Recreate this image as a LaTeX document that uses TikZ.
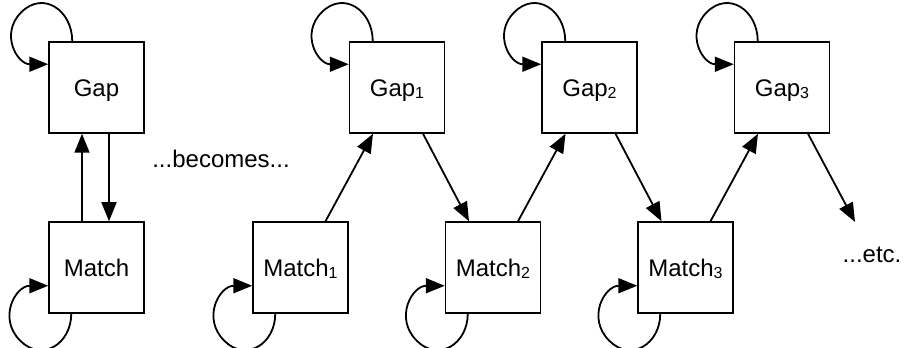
\documentclass[tikz,border=0pt]{standalone}
\usepackage{fontspec}
\setmainfont{Liberation Sans}
\usetikzlibrary{arrows.meta}

% small lowered index after a state name
\newcommand{\stateidx}[1]{\raisebox{-0.1em}{\fontsize{16}{16}\selectfont #1}}

\tikzset{
  state/.style={draw, line width=1.5pt, minimum width=95pt, minimum height=91pt,
                inner sep=0pt, text height=17.2pt, text depth=0pt,
                font=\fontsize{24}{28}\selectfont},
  arr/.style={line width=1.8pt, -{Triangle[length=19pt,width=15pt]}},
  lbl/.style={font=\fontsize{24}{28}\selectfont, inner sep=0pt, anchor=base},
  loopup/.style={out=90, in=45, looseness=1.35},
  loopdown/.style={out=-90, in=-45, looseness=1.35},
  loopin/.style={in=180, looseness=1.35},
}

\begin{document}
\begin{tikzpicture}[x=1pt,y=1pt]
  \useasboundingbox (0,0) rectangle (905,348);

  % the two-state model
  \node[state] (gap0)   at (96.5,260.5) {Gap};
  \node[state] (match0) at (96.5,80.5)  {Match};

  % the unrolled chain
  \node[state] (gap1)   at (397,260.5)   {Gap\stateidx{1}};
  \node[state] (gap2)   at (589.5,260.5) {Gap\stateidx{2}};
  \node[state] (gap3)   at (782,260.5)   {Gap\stateidx{3}};
  \node[state] (match1) at (300.5,80.5)  {Match\stateidx{1}};
  \node[state] (match2) at (493,80.5)    {Match\stateidx{2}};
  \node[state] (match3) at (685.5,80.5)  {Match\stateidx{3}};

  \node[lbl] (becomes) at (221,180) {...becomes...};
  \node[lbl] (etc)     at (872,85)  {...etc.};
  \coordinate (next) at (855,126);

  % transitions between Gap and Match
  \draw[arr] ([xshift=-14.5pt]match0.north) -- ([xshift=-14.5pt]gap0.south);
  \draw[arr] ([xshift=12.5pt]gap0.south) -- ([xshift=12.5pt]match0.north);

  \draw[arr] ([xshift=25pt]match1.north) -- ([xshift=-24pt]gap1.south);
  \draw[arr] ([xshift=26pt]gap1.south)   -- ([xshift=-24pt]match2.north);
  \draw[arr] ([xshift=25pt]match2.north) -- ([xshift=-24pt]gap2.south);
  \draw[arr] ([xshift=26pt]gap2.south)   -- ([xshift=-24pt]match3.north);
  \draw[arr] ([xshift=25pt]match3.north) -- ([xshift=-24pt]gap3.south);
  \draw[arr] ([xshift=26pt]gap3.south)   -- (next);

  % self loops: round loops above-left of each Gap, below-left of each Match
  \foreach \g in {gap0,gap1,gap2,gap3}
    \draw[arr] ([xshift=24pt]\g.north west)
      to[loopup] ([shift={(-27pt,29pt)}]\g.north west)
      to[out=225, loopin] ([yshift=-23pt]\g.north west);
  \foreach \m in {match0,match1,match2,match3}
    \draw[arr] ([xshift=23pt]\m.south west)
      to[loopdown] ([shift={(-28pt,-27pt)}]\m.south west)
      to[out=135, loopin] ([yshift=28pt]\m.south west);
\end{tikzpicture}
\end{document}
